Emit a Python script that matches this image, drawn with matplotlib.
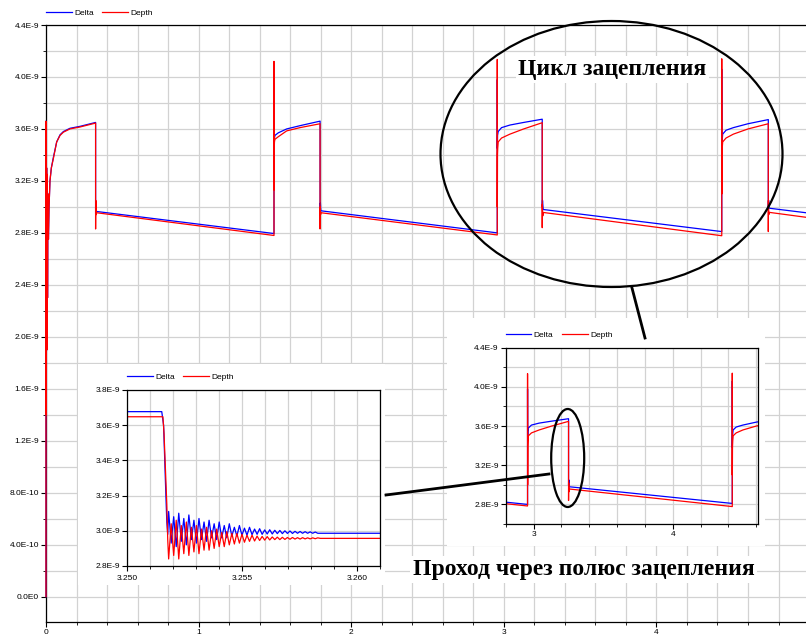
import matplotlib
matplotlib.use('Agg')
import matplotlib.pyplot as plt
from matplotlib.patches import Ellipse, Rectangle
from matplotlib.lines import Line2D
from matplotlib.ticker import MultipleLocator

plt.rcParams['font.family'] = ['Liberation Sans', 'DejaVu Sans']

# values in units of 1E-9
# main run: Delta
delta_t = [0, 0, 0.002, 0.004, 0.006, 0.008, 0.010, 0.013, 0.016, 0.020, 0.026, 0.035, 0.048, 0.070, 0.092, 0.114, 0.157, 0.223, 0.325,
           0.325, 0.327, 0.330, 1.494,
           1.494, 1.4945, 1.496, 1.500, 1.522, 1.577, 1.664, 1.796,
           1.796, 1.798, 1.801, 2.957,
           2.957, 2.9575, 2.959, 2.963, 2.985, 3.04, 3.13, 3.2516,
           3.2516, 3.2535, 3.258, 4.428,
           4.428, 4.4285, 4.430, 4.434, 4.456, 4.504, 4.60, 4.733,
           4.733, 4.735, 4.738, 4.98]
delta_v = [0, 3.66, 1.4, 3.3, 1.9, 3.25, 2.3, 3.1, 2.75, 3.0, 3.2, 3.3, 3.38, 3.5, 3.555, 3.58, 3.605, 3.62, 3.65,
           2.95, 3.02, 2.965, 2.795,
           3.88, 3.45, 3.52, 3.55, 3.57, 3.60, 3.625, 3.66,
           2.93, 3.03, 2.97, 2.80,
           3.98, 3.45, 3.55, 3.58, 3.61, 3.63, 3.65, 3.675,
           3.0, 3.05, 2.98, 2.81,
           4.06, 3.38, 3.50, 3.56, 3.59, 3.61, 3.64, 3.672,
           3.0, 3.05, 2.99, 2.955]

# main run: Depth
depth_t = [0, 0, 0.002, 0.004, 0.006, 0.008, 0.010, 0.013, 0.016, 0.020, 0.026, 0.035, 0.048, 0.070, 0.092, 0.114, 0.157, 0.223, 0.325,
           0.325, 0.326, 0.328, 0.331, 1.494,
           1.494, 1.4945, 1.4955, 1.497, 1.500, 1.522, 1.577, 1.664, 1.796,
           1.796, 1.797, 1.799, 1.802, 2.957,
           2.957, 2.9575, 2.9585, 2.960, 2.963, 2.985, 3.04, 3.13, 3.2516,
           3.2516, 3.2525, 3.255, 3.259, 4.428,
           4.428, 4.4285, 4.4295, 4.431, 4.434, 4.456, 4.504, 4.60, 4.733,
           4.733, 4.734, 4.736, 4.739, 4.98]
depth_v = [0, 3.66, 1.4, 3.3, 1.9, 3.25, 2.3, 3.1, 2.75, 3.0, 3.2, 3.3, 3.37, 3.5, 3.55, 3.575, 3.6, 3.615, 3.645,
           2.83, 3.05, 2.94, 2.955, 2.78,
           4.12, 3.13, 3.45, 3.50, 3.52, 3.54, 3.585, 3.61, 3.64,
           2.83, 3.0, 2.94, 2.955, 2.784,
           4.135, 3.0, 3.40, 3.45, 3.50, 3.53, 3.56, 3.60, 3.648,
           2.84, 3.02, 2.93, 2.957, 2.778,
           4.14, 3.1, 3.38, 3.45, 3.50, 3.53, 3.56, 3.60, 3.64,
           2.81, 3.05, 2.94, 2.958, 2.92]

# zoom on the pass through the pitch point
osc_t = [3.25180, 3.25191, 3.25202, 3.25213, 3.25224, 3.25235, 3.25246, 3.25257, 3.25268, 3.25279,
         3.25290, 3.25301, 3.25312, 3.25323, 3.25334, 3.25345, 3.25356, 3.25367, 3.25378, 3.25389,
         3.25400, 3.25411, 3.25422, 3.25433, 3.25444, 3.25455, 3.25466, 3.25477, 3.25488, 3.25499,
         3.25510, 3.25521, 3.25532, 3.25543, 3.25554, 3.25565, 3.25576, 3.25587, 3.25598, 3.25609,
         3.25620, 3.25631, 3.25642, 3.25653, 3.25664, 3.25675, 3.25686, 3.25697, 3.25708, 3.25719,
         3.25730, 3.25741, 3.25752, 3.25763, 3.25774, 3.25785, 3.25796, 3.25807, 3.25818, 3.25829]
osc_delta = [3.11, 2.93, 3.08, 2.91, 3.10, 2.94, 3.07, 2.92, 3.09, 2.95,
             3.06, 2.93, 3.07, 2.95, 3.05, 2.94, 3.06, 2.96, 3.04, 2.95,
             3.05, 2.96, 3.03, 2.96, 3.04, 2.97, 3.02, 2.97, 3.03, 2.975,
             3.015, 2.975, 3.02, 2.978, 3.01, 2.98, 3.012, 2.98, 3.005, 2.982,
             3.006, 2.982, 3.003, 2.984, 3.002, 2.984, 3.0, 2.985, 2.999, 2.985,
             2.997, 2.986, 2.996, 2.986, 2.995, 2.986, 2.994, 2.986, 2.993, 2.986]
osc_depth = [2.84, 3.04, 2.86, 3.06, 2.84, 3.03, 2.87, 3.05, 2.86, 3.02,
             2.88, 3.03, 2.87, 3.01, 2.89, 3.02, 2.89, 3.0, 2.90, 3.01,
             2.91, 2.99, 2.91, 2.995, 2.92, 2.985, 2.925, 2.985, 2.93, 2.98,
             2.935, 2.975, 2.94, 2.975, 2.942, 2.97, 2.945, 2.968, 2.947, 2.967,
             2.948, 2.965, 2.95, 2.964, 2.95, 2.963, 2.951, 2.962, 2.952, 2.962,
             2.953, 2.961, 2.953, 2.961, 2.954, 2.96, 2.954, 2.96, 2.955, 2.96]
zd_t = [3.2490, 3.25150, 3.25158, 3.25163, 3.25168, 3.25172, 3.25176] + osc_t + [3.25840, 3.2620]
zd_v = [3.677, 3.677, 3.60, 3.40, 3.20, 3.05, 2.98] + osc_delta + [2.986, 2.986]
zp_t = [3.2490, 3.25155, 3.25160, 3.25166, 3.25172, 3.25176] + osc_t + [3.25840, 3.2620]
zp_v = [3.648, 3.648, 3.55, 3.35, 3.15, 2.95] + osc_depth + [2.957, 2.957]

main_yticks = [0, 0.4, 0.8, 1.2, 1.6, 2.0, 2.4, 2.8, 3.2, 3.6, 4.0, 4.4]
main_ylabels = ['0.0E0', '4.0E-10', '8.0E-10', '1.2E-9', '1.6E-9', '2.0E-9', '2.4E-9',
                '2.8E-9', '3.2E-9', '3.6E-9', '4.0E-9', '4.4E-9']
cyc_yticks = [2.8, 3.2, 3.6, 4.0, 4.4]
cyc_ylabels = ['2.8E-9', '3.2E-9', '3.6E-9', '4.0E-9', '4.4E-9']
pole_yticks = [2.8, 3.0, 3.2, 3.4, 3.6, 3.8]
pole_ylabels = ['2.8E-9', '3.0E-9', '3.2E-9', '3.4E-9', '3.6E-9', '3.8E-9']
pole_xticks = [3.250, 3.255, 3.260]
pole_xlabels = ['3.250', '3.255', '3.260']

W, H = 806, 636
BLUE, RED = '#0000ff', '#ff0000'
GRID = '#d2d2d2'


def fx(px):
    return px / W


def fy(py):
    return 1 - py / H


def box(l, t, r, b):
    return [fx(l), fy(b), (r - l) / W, (b - t) / H]


def style(ax, fs=6):
    ax.grid(True, which='both', color=GRID, lw=0.9)
    ax.set_axisbelow(True)
    ax.tick_params(which='both', direction='out', labelsize=fs, pad=1.5, colors='black')
    ax.tick_params(which='major', length=3.5)
    ax.tick_params(which='minor', length=2.5)
    for s in ax.spines.values():
        s.set_color('black')
        s.set_linewidth(0.9)


def legend(ax, x_px, y_px):
    # legend row placed by figure pixel position (left of the first line, centre height)
    ax.legend(loc='center left', bbox_to_anchor=(fx(x_px - 1), fy(y_px)),
              bbox_transform=fig.transFigure, ncol=2, frameon=False, fontsize=6,
              handlelength=3.1, handletextpad=0.3, columnspacing=1.0, borderpad=0.1,
              borderaxespad=0)


fig = plt.figure(figsize=(W / 100, H / 100), dpi=100)

# main chart
ax = fig.add_axes(box(46, 25, 806, 622))
ax.plot(delta_t, delta_v, color=BLUE, lw=0.9, label='Delta', zorder=3, clip_on=False)
ax.plot(depth_t, depth_v, color=RED, lw=0.9, label='Depth', zorder=3, clip_on=False)
ax.set_xlim(0, 4.98)
ax.set_ylim(-0.195, 4.4)
ax.set_xticks([0, 1, 2, 3, 4])
ax.xaxis.set_minor_locator(MultipleLocator(0.2))
ax.set_yticks(main_yticks, main_ylabels)
ax.yaxis.set_minor_locator(MultipleLocator(0.2))
ax.spines['right'].set_visible(False)
style(ax)
legend(ax, 46, 13)

# white backgrounds behind the insets
fig.add_artist(Rectangle((fx(78), fy(585)), 307 / W, 221 / H, transform=fig.transFigure,
                         facecolor='white', edgecolor='none', zorder=1))
fig.add_artist(Rectangle((fx(447), fy(546)), 318 / W, 228 / H, transform=fig.transFigure,
                         facecolor='white', edgecolor='none', zorder=1))

# inset: pitch point pass
ax1 = fig.add_axes(box(127.3, 390, 380, 566), zorder=2)
ax1.plot(zd_t, zd_v, color=BLUE, lw=0.9, label='Delta')
ax1.plot(zp_t, zp_v, color=RED, lw=0.9, label='Depth')
ax1.set_xlim(3.250, 3.261)
ax1.set_ylim(2.8, 3.8)
ax1.set_xticks(pole_xticks, pole_xlabels)
ax1.xaxis.set_minor_locator(MultipleLocator(0.001))
ax1.set_yticks(pole_yticks, pole_ylabels)
style(ax1)
ax1.grid(False, which='minor', axis='y')
ax1.tick_params(axis='x', which='both', pad=3)
legend(ax1, 127, 377)

# inset: one meshing cycle
ax2 = fig.add_axes(box(505.7, 347.7, 758.3, 524), zorder=2)
ax2.plot(delta_t, delta_v, color=BLUE, lw=0.9, label='Delta')
ax2.plot(depth_t, depth_v, color=RED, lw=0.9, label='Depth')
ax2.set_xlim(2.8, 4.615)
ax2.set_ylim(2.6, 4.4)
ax2.set_xticks([3, 4])
ax2.xaxis.set_minor_locator(MultipleLocator(0.2))
ax2.set_yticks(cyc_yticks, cyc_ylabels)
ax2.yaxis.set_minor_locator(MultipleLocator(0.2))
style(ax2)
legend(ax2, 505.7, 335)

# annotations
fig.add_artist(Ellipse((fx(611.5), fy(154)), 342 / W, 266 / H, transform=fig.transFigure,
                       fill=False, edgecolor='black', lw=1.6, zorder=5))
fig.add_artist(Ellipse((fx(567.7), fy(458)), 33 / W, 98 / H, transform=fig.transFigure,
                       fill=False, edgecolor='black', lw=1.6, zorder=5))
fig.add_artist(Line2D([fx(386), fx(549)], [fy(495), fy(474)], transform=fig.transFigure,
                      color='black', lw=2.0, zorder=5))
fig.add_artist(Line2D([fx(632), fx(645)], [fy(288), fy(338)], transform=fig.transFigure,
                      color='black', lw=2.0, zorder=5))

txt = dict(ha='center', va='baseline', family=['Liberation Serif', 'DejaVu Serif'], weight='bold',
           size=17, zorder=4, bbox=dict(facecolor='white', edgecolor='none', pad=2))
fig.text(fx(612.5), fy(75), 'Цикл зацепления', **txt)
fig.text(fx(583.5), fy(575), 'Проход через полюс зацепления', **txt)

fig.savefig('out.png', dpi=100)
